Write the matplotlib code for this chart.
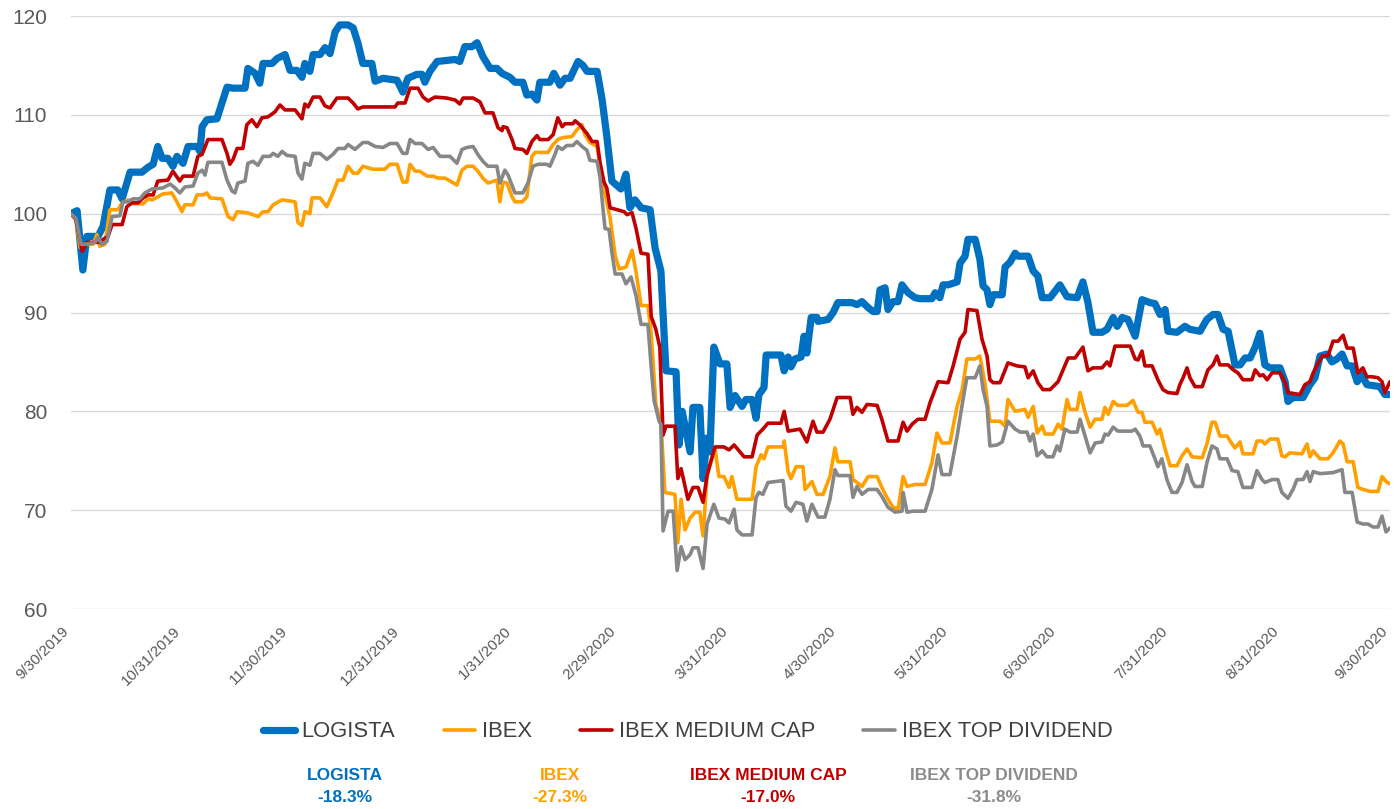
import pandas as pd
import matplotlib
matplotlib.use('Agg')
import matplotlib.pyplot as plt

plt.rcParams['font.family'] = ['Liberation Sans', 'DejaVu Sans']

start = pd.Timestamp('2019-09-30')

# values, x = days after 9/30/2019 (index, base 100)
logista_days = [0, 1.7, 3.3, 4.4, 7.5, 8.9, 10.8, 13.0, 14.2, 16.4, 19.7, 21.4, 22.8, 24.1, 25.3, 26.9, 28.3, 29.4,
                31.1, 32.5, 35.0, 35.8, 36.4, 37.7, 40.5, 43.3, 45.0, 48.3, 49.1, 51.1, 52.4, 53.3, 55.8, 57.2, 59.4,
                60.8, 62.7, 64.1, 64.9, 66.3, 67.2, 69.1, 70.5, 71.9, 73.3, 74.6, 76.9, 78.3, 79.6, 81.0, 83.5, 84.4,
                86.6, 90.5, 92.1, 93.5, 96.0, 97.4, 98.2, 99.6, 101.6, 106.6, 107.9, 109.3, 111.3, 112.7, 114.3, 116.3,
                118.2, 119.6, 121.8, 123.2, 125.4, 126.5, 127.9, 129.3, 130.1, 132.9, 134.0, 135.7, 137.1, 138.5, 140.7,
                142.1, 143.2, 146.0, 147.4, 148.7, 150.1, 152.6, 154.0, 155.1, 156.5, 158.2, 160.7, 162.1, 163.7, 165.1,
                167.9, 168.7, 169.6, 171.8, 172.6, 174.5, 175.4, 176.5, 177.3, 178.4, 180.1, 182.0, 182.9, 184.3, 186.2,
                187.3, 189.0, 190.1, 190.9, 192.3, 192.9, 197.0, 197.9, 199.0, 199.8, 200.9, 202.6, 203.4, 204.2, 205.4,
                207.0, 207.3, 210.1, 211.5, 212.8, 216.7, 218.1, 219.5, 221.2, 222.6, 223.7, 224.5, 225.9, 226.7, 228.1,
                229.5, 230.6, 232.3, 234.2, 235.6, 238.9, 239.8, 241.1, 242.0, 243.4, 245.9, 246.7, 248.1, 248.9, 250.9,
                252.2, 253.1, 254.2, 255.0, 255.9, 258.4, 259.2, 260.6, 262.0, 262.8, 265.6, 267.0, 268.3, 269.5, 271.7,
                274.4, 276.4, 279.2, 280.8, 282.2, 283.6, 286.1, 287.5, 289.2, 290.3, 291.7, 293.3, 295.3, 297.2, 299.4,
                300.8, 302.2, 303.6, 304.4, 306.9, 309.1, 310.5, 313.3, 315.2, 316.9, 318.3, 319.7, 321.1, 323.0, 324.4,
                325.8, 327.2, 328.6, 329.9, 331.3, 332.7, 335.5, 336.9, 337.7, 339.1, 341.9, 343.8, 345.2, 346.6, 348.5,
                349.9, 351.3, 352.7, 354.1, 355.5, 356.9, 358.2, 359.6, 363.2, 364.6, 366.0]
logista = [100.0, 100.3, 94.3, 97.7, 97.7, 98.7, 102.4, 102.4, 101.5, 104.2, 104.2, 104.7, 105.0, 106.8, 105.6, 105.6,
           104.8, 105.8, 105.1, 106.8, 106.8, 106.3, 108.8, 109.5, 109.6, 112.8, 112.7, 112.7, 114.7, 114.2, 113.2,
           115.2, 115.2, 115.7, 116.1, 114.5, 114.5, 113.8, 115.2, 114.4, 116.1, 116.1, 116.8, 116.2, 118.4, 119.1,
           119.1, 118.8, 117.3, 115.2, 115.2, 113.4, 113.7, 113.5, 112.3, 113.7, 114.1, 114.1, 113.3, 114.4, 115.4,
           115.6, 115.4, 116.9, 116.9, 117.3, 115.9, 114.7, 114.7, 114.2, 113.8, 113.3, 113.3, 112.0, 112.1, 111.5,
           113.3, 113.3, 114.2, 113.0, 113.7, 113.7, 115.4, 115.0, 114.4, 114.4, 111.5, 107.8, 103.3, 102.5, 104.0,
           100.6, 101.4, 100.6, 100.4, 96.5, 94.2, 84.1, 84.0, 76.6, 80.0, 75.9, 80.4, 80.4, 73.2, 77.3, 75.9, 86.5,
           84.8, 84.8, 80.4, 81.6, 80.5, 81.2, 81.2, 79.3, 81.7, 82.4, 85.7, 85.7, 84.1, 85.5, 84.5, 85.3, 85.5, 87.6,
           85.9, 89.5, 89.5, 89.1, 89.3, 90.0, 91.0, 91.0, 90.8, 91.1, 90.5, 90.1, 90.1, 92.3, 92.5, 90.3, 91.1, 91.1,
           92.8, 92.0, 91.5, 91.4, 91.4, 92.0, 91.5, 92.8, 92.8, 93.1, 95.0, 95.7, 97.4, 97.4, 95.4, 92.7, 92.3, 90.8,
           91.8, 91.8, 94.6, 95.1, 96.0, 95.7, 95.7, 94.2, 93.7, 91.5, 91.5, 92.8, 91.6, 91.5, 93.1, 91.0, 88.0, 88.0,
           88.3, 89.5, 88.6, 89.5, 89.3, 87.6, 91.3, 91.0, 90.9, 89.8, 90.3, 88.1, 88.0, 88.6, 88.3, 88.1, 89.3, 89.8,
           89.8, 88.3, 88.1, 84.7, 84.7, 85.4, 85.4, 86.5, 87.9, 84.7, 84.4, 84.4, 83.0, 81.0, 81.4, 81.4, 82.7, 83.4,
           85.6, 85.8, 85.0, 85.3, 85.8, 84.6, 84.6, 83.0, 83.7, 82.7, 82.5, 81.7, 81.7]

ibex_days = [0, 1.4, 2.5, 3.9, 6.1, 7.2, 8.0, 9.4, 10.8, 13.0, 14.2, 15.8, 16.9, 20.0, 21.4, 22.5, 24.1, 25.5, 28.0,
             29.4, 30.8, 31.6, 33.9, 35.0, 36.6, 37.7, 38.6, 41.9, 43.6, 45.0, 46.1, 48.8, 50.5, 51.9, 53.3, 54.7,
             56.1, 58.6, 62.2, 63.0, 64.1, 64.9, 66.3, 66.9, 69.1, 71.0, 72.7, 74.1, 75.5, 76.9, 78.3, 79.6, 81.0,
             83.8, 87.1, 88.5, 90.5, 92.1, 93.2, 94.1, 95.5, 96.8, 98.8, 100.5, 101.8, 103.8, 105.7, 107.1, 108.5,
             109.9, 111.6, 112.9, 114.3, 115.7, 118.2, 119.0, 119.9, 121.0, 122.4, 123.2, 125.2, 126.5, 127.9, 128.8,
             132.4, 133.8, 135.1, 136.5, 139.0, 140.4, 141.8, 142.6, 144.0, 146.0, 146.8, 147.9, 149.6, 151.0, 152.1,
             154.0, 155.7, 156.8, 158.2, 160.1, 161.0, 162.3, 163.7, 164.8, 167.6, 168.4, 169.3, 170.4, 171.8, 173.2,
             174.5, 175.4, 176.5, 177.9, 178.7, 179.8, 181.2, 182.6, 183.4, 184.8, 189.0, 190.1, 191.5, 192.3, 193.4,
             197.6, 197.9, 199.0, 199.8, 201.2, 203.1, 203.7, 205.6, 207.0, 208.7, 210.6, 212.0, 212.8, 216.2, 217.0,
             218.1, 219.5, 221.2, 223.7, 225.0, 226.4, 228.1, 229.5, 230.9, 232.0, 234.2, 237.0, 238.9, 240.3, 241.7,
             243.9, 245.9, 247.3, 248.6, 250.9, 252.2, 253.6, 255.0, 257.8, 259.2, 260.0, 262.0, 264.7, 265.6, 267.0,
             268.1, 269.5, 270.3, 272.5, 273.9, 275.0, 276.4, 277.2, 279.2, 280.0, 281.4, 282.8, 284.2, 286.1, 286.9,
             287.8, 289.2, 290.5, 293.0, 294.7, 296.1, 297.2, 298.0, 300.0, 301.4, 302.2, 303.6, 305.0, 306.9, 308.3,
             309.7, 311.1, 313.9, 315.2, 316.6, 317.5, 318.8, 320.8, 322.2, 323.0, 324.4, 325.2, 328.0, 329.1, 330.5,
             331.3, 332.7, 334.9, 336.0, 336.9, 338.2, 341.6, 343.0, 343.8, 344.7, 346.6, 348.8, 350.2, 352.1, 353.0,
             354.1, 355.8, 357.1, 358.5, 360.5, 362.7, 363.8, 365.2, 366.0]
ibex = [100.0, 99.4, 96.6, 96.9, 96.9, 97.9, 96.7, 96.9, 100.4, 100.4, 101.1, 101.4, 101.0, 101.0, 101.5, 101.4, 101.7,
        102.0, 102.1, 101.2, 100.2, 100.9, 100.9, 101.9, 101.9, 102.1, 101.6, 101.5, 99.7, 99.4, 100.2, 100.1, 99.9,
        99.7, 100.2, 100.2, 100.9, 101.4, 101.2, 99.1, 98.8, 100.2, 100.0, 101.6, 101.6, 100.7, 102.1, 103.4, 103.4,
        104.8, 104.1, 104.1, 104.8, 104.5, 104.5, 105.0, 105.0, 103.2, 103.2, 105.0, 104.3, 104.3, 103.8, 103.8, 103.6,
        103.6, 103.2, 102.9, 104.4, 104.8, 104.8, 104.3, 103.6, 103.1, 103.4, 101.2, 103.2, 103.1, 101.7, 101.2, 101.2,
        101.7, 105.8, 106.2, 106.2, 107.0, 107.5, 107.7, 107.8, 108.5, 109.0, 108.0, 107.2, 106.8, 104.7, 102.5, 99.6,
        95.8, 94.4, 94.6, 96.3, 94.1, 90.7, 90.7, 87.9, 80.7, 79.0, 71.8, 71.6, 66.7, 71.1, 68.0, 69.2, 69.8, 69.8,
        67.4, 73.5, 75.2, 76.3, 73.4, 73.4, 72.3, 73.4, 71.1, 71.1, 74.4, 75.6, 75.2, 76.4, 76.4, 77.0, 73.9, 73.2,
        74.4, 74.4, 72.1, 72.9, 71.6, 71.6, 73.4, 76.3, 74.9, 74.9, 73.1, 72.8, 72.4, 73.4, 73.4, 72.3, 71.3, 70.3,
        70.1, 73.4, 72.4, 72.6, 72.6, 74.8, 77.8, 76.8, 76.8, 80.5, 82.2, 85.3, 85.3, 85.6, 82.9, 79.0, 79.0, 78.5,
        81.2, 80.0, 80.2, 79.4, 80.5, 77.8, 78.5, 77.7, 77.7, 78.7, 78.2, 81.2, 80.2, 80.2, 81.9, 79.9, 78.4, 79.2,
        79.2, 80.4, 79.7, 81.0, 80.6, 80.6, 81.1, 79.9, 79.9, 78.9, 78.9, 77.7, 78.2, 76.2, 74.5, 74.5, 75.5, 76.2,
        75.4, 75.3, 76.7, 78.9, 78.9, 77.5, 77.5, 76.7, 76.3, 76.9, 75.7, 75.7, 77.0, 77.0, 76.7, 77.2, 77.2, 75.5,
        75.4, 75.8, 75.7, 76.7, 75.4, 76.0, 75.2, 75.2, 75.8, 77.0, 76.7, 74.9, 74.9, 72.3, 72.1, 71.9, 71.9, 73.4,
        72.8, 72.7]

midcap_days = [0, 1.4, 3.1, 4.4, 8.0, 8.9, 10.3, 11.4, 14.2, 15.5, 16.9, 18.6, 20.0, 21.4, 22.8, 24.1, 26.9, 28.3,
               30.2, 31.1, 33.9, 35.2, 36.4, 38.0, 41.9, 43.3, 44.1, 45.0, 46.1, 47.7, 48.8, 50.2, 51.6, 53.0, 54.7,
               56.6, 58.0, 59.4, 62.2, 64.1, 64.9, 65.8, 67.2, 69.1, 70.5, 71.9, 73.8, 76.9, 78.3, 79.6, 81.0, 89.9,
               90.7, 92.7, 94.1, 96.3, 97.7, 99.1, 101.0, 104.3, 106.6, 107.9, 108.8, 111.6, 113.5, 114.9, 117.1,
               118.5, 119.6, 119.9, 121.0, 122.4, 123.2, 125.4, 126.5, 127.9, 129.3, 130.1, 132.4, 133.8, 135.1,
               136.3, 137.1, 139.3, 139.9, 141.2, 143.2, 144.6, 146.0, 146.8, 147.9, 148.7, 149.6, 153.5, 154.3,
               155.7, 156.8, 158.2, 160.1, 161.0, 162.3, 163.4, 164.3, 165.1, 167.6, 168.4, 169.3, 171.2, 172.6,
               174.0, 175.4, 176.5, 177.3, 178.7, 181.2, 182.6, 184.0, 186.8, 189.0, 190.4, 192.0, 193.4, 197.0,
               197.9, 199.0, 202.3, 204.2, 205.9, 207.0, 208.7, 210.6, 212.6, 216.2, 217.0, 218.1, 219.5, 220.9,
               223.7, 225.0, 226.7, 229.5, 230.9, 232.0, 233.4, 235.0, 237.0, 238.4, 240.6, 243.4, 244.8, 246.7,
               248.1, 248.9, 251.4, 252.8, 254.2, 255.0, 255.9, 257.8, 260.0, 262.5, 264.7, 265.6, 267.0, 268.3,
               269.7, 271.7, 273.9, 275.3, 276.7, 278.6, 280.0, 280.8, 282.2, 283.6, 286.1, 287.5, 288.3, 289.7,
               293.9, 295.3, 296.1, 297.2, 298.0, 300.0, 301.6, 303.0, 304.4, 306.9, 307.7, 308.6, 309.7, 310.5,
               311.9, 313.9, 315.5, 316.9, 318.0, 318.8, 321.1, 322.5, 323.8, 325.2, 327.7, 328.6, 329.9, 330.8,
               331.9, 333.3, 335.5, 336.9, 337.7, 341.0, 342.4, 343.8, 344.7, 346.1, 347.2, 348.8, 350.2, 351.6,
               353.0, 354.1, 355.8, 357.1, 358.5, 359.6, 361.0, 362.7, 363.8, 364.6, 366.0]
midcap = [100.0, 99.4, 96.2, 97.1, 97.1, 97.4, 97.7, 98.9, 98.9, 100.7, 101.1, 101.1, 101.6, 101.9, 101.9, 103.3,
          103.4, 104.3, 103.3, 103.8, 103.8, 105.8, 106.0, 107.5, 107.5, 106.1, 105.0, 105.5, 106.6, 106.6, 109.0,
          109.5, 108.8, 109.7, 109.8, 110.3, 111.0, 110.5, 110.5, 109.6, 111.1, 110.8, 111.8, 111.8, 110.9, 110.7,
          111.7, 111.7, 111.2, 110.6, 110.8, 110.8, 111.2, 111.2, 112.7, 112.7, 111.8, 111.4, 111.8, 111.7, 111.5,
          111.1, 111.7, 111.7, 111.3, 110.2, 110.2, 108.7, 108.4, 108.8, 108.7, 107.5, 106.6, 106.5, 106.1, 107.3,
          107.9, 107.5, 107.5, 108.0, 109.7, 108.8, 109.1, 109.1, 109.4, 109.0, 108.1, 107.3, 107.3, 105.2, 103.2,
          102.6, 100.6, 100.2, 99.9, 100.1, 98.5, 96.0, 95.9, 89.6, 88.3, 86.5, 77.6, 78.5, 78.5, 73.2, 74.2, 71.1,
          72.3, 72.3, 70.8, 73.5, 74.6, 76.4, 76.4, 76.1, 76.6, 75.4, 75.4, 77.6, 78.2, 78.8, 78.8, 80.0, 78.0, 78.2,
          76.9, 79.0, 77.9, 77.9, 79.2, 81.4, 81.4, 79.7, 80.4, 79.9, 80.7, 80.6, 79.2, 77.0, 77.0, 78.9, 78.0, 78.7,
          79.2, 79.2, 80.9, 83.0, 82.9, 84.6, 87.3, 88.0, 90.3, 90.2, 87.3, 85.6, 83.2, 82.9, 82.9, 84.9, 84.6, 84.5,
          83.4, 84.1, 82.9, 82.2, 82.2, 83.0, 84.2, 85.4, 85.4, 86.1, 86.5, 84.1, 84.4, 84.4, 85.0, 84.6, 86.6, 86.6,
          85.3, 85.2, 86.1, 84.6, 84.6, 83.2, 82.2, 81.9, 81.8, 82.7, 83.4, 84.4, 83.4, 82.5, 82.5, 84.2, 84.7, 85.6,
          84.7, 84.7, 84.2, 83.9, 83.2, 83.2, 84.2, 83.6, 83.7, 83.2, 83.9, 83.9, 82.9, 81.9, 81.7, 82.7, 83.0, 83.9,
          84.9, 85.6, 85.6, 87.1, 87.1, 87.7, 86.4, 86.4, 83.9, 84.4, 83.5, 83.5, 83.4, 83.0, 81.9, 83.0]

topdiv_days = [0, 1.4, 2.8, 3.9, 6.7, 7.5, 8.6, 10.0, 11.4, 13.6, 14.4, 15.8, 17.2, 19.1, 20.5, 22.5, 25.5, 27.5,
               28.9, 30.2, 31.6, 33.9, 35.2, 36.4, 37.2, 38.0, 41.9, 43.3, 44.7, 45.5, 46.3, 48.3, 49.1, 50.5, 51.9,
               53.3, 55.2, 56.1, 57.4, 58.6, 59.9, 62.2, 63.0, 64.1, 64.9, 66.3, 67.2, 69.1, 71.0, 72.7, 74.1, 76.0,
               76.9, 78.8, 81.0, 82.4, 84.4, 86.6, 88.5, 90.5, 92.1, 93.2, 94.1, 95.5, 97.4, 99.1, 100.5, 102.4,
               105.2, 107.1, 108.5, 109.9, 111.6, 112.9, 114.3, 115.7, 118.2, 119.0, 120.4, 121.3, 123.2, 125.4,
               126.8, 128.2, 129.6, 132.1, 132.9, 134.3, 135.1, 136.3, 137.6, 139.3, 140.4, 141.8, 143.2, 144.0,
               146.0, 146.8, 147.6, 148.2, 149.3, 150.1, 151.0, 152.9, 154.0, 155.4, 156.8, 158.2, 160.1, 161.0,
               161.8, 163.2, 163.7, 164.3, 165.7, 167.1, 168.2, 169.3, 170.4, 171.8, 172.6, 174.0, 175.4, 176.5,
               178.4, 179.8, 181.5, 182.6, 184.0, 184.8, 186.2, 189.0, 190.1, 190.9, 192.0, 193.4, 197.6, 198.4,
               199.8, 201.2, 203.1, 204.2, 205.6, 207.3, 209.2, 210.6, 212.0, 212.8, 216.2, 217.0, 218.1, 219.5,
               221.2, 223.7, 225.0, 226.7, 228.7, 230.6, 230.9, 232.0, 233.7, 237.0, 238.9, 240.6, 241.7, 243.9,
               245.9, 247.3, 248.6, 250.9, 252.2, 253.1, 254.2, 255.0, 257.0, 258.4, 260.0, 262.0, 263.4, 265.3,
               266.1, 267.0, 268.1, 269.5, 270.8, 272.5, 273.6, 274.4, 275.8, 277.2, 279.2, 280.0, 281.4, 282.8,
               284.2, 286.1, 286.9, 287.8, 289.2, 290.5, 294.4, 295.3, 296.6, 297.5, 299.4, 300.8, 301.6, 302.7,
               304.1, 305.5, 306.9, 308.3, 309.7, 311.1, 311.9, 313.9, 315.2, 316.6, 318.0, 318.8, 320.8, 322.2,
               323.8, 325.2, 327.7, 329.1, 330.5, 331.3, 333.3, 334.9, 336.0, 337.7, 339.1, 340.2, 341.9, 343.0,
               343.8, 344.7, 346.6, 350.2, 352.7, 353.5, 355.5, 356.9, 358.5, 359.9, 361.3, 362.7, 363.8, 364.9,
               366.0]
topdiv = [100.0, 99.5, 96.9, 96.9, 97.1, 97.6, 96.9, 97.2, 99.7, 99.8, 101.2, 101.2, 101.5, 101.5, 102.1, 102.5,
          102.6, 103.0, 102.6, 102.1, 102.7, 102.8, 104.1, 104.4, 103.9, 105.2, 105.2, 103.4, 102.3, 102.1, 103.1,
          103.3, 105.1, 105.3, 104.9, 105.8, 105.8, 106.1, 105.8, 106.3, 105.9, 105.8, 104.1, 103.5, 105.1, 104.9,
          106.1, 106.1, 105.5, 106.0, 106.6, 106.6, 107.0, 106.5, 107.2, 107.2, 106.8, 106.7, 107.1, 107.1, 106.1,
          106.1, 107.5, 107.1, 107.1, 106.5, 106.7, 105.8, 105.8, 105.1, 106.5, 106.7, 106.8, 106.0, 105.3, 104.8,
          104.8, 103.1, 104.4, 103.9, 102.1, 102.1, 103.1, 104.8, 105.0, 105.0, 104.8, 106.0, 106.8, 106.5, 106.9,
          106.9, 107.3, 106.8, 106.4, 105.4, 105.3, 103.7, 100.6, 98.5, 98.4, 96.1, 93.9, 93.9, 92.9, 93.6, 91.7,
          88.8, 88.8, 84.5, 81.1, 79.0, 78.7, 67.9, 69.9, 69.9, 63.9, 66.3, 65.0, 65.5, 66.2, 66.2, 64.1, 68.6, 70.6,
          69.2, 69.1, 68.7, 70.1, 68.0, 67.5, 67.5, 71.3, 71.8, 71.6, 72.8, 73.0, 70.4, 69.9, 70.8, 70.6, 68.9, 70.6,
          69.3, 69.3, 71.1, 74.1, 73.5, 73.5, 71.3, 72.4, 71.6, 72.1, 72.1, 71.4, 70.3, 69.8, 69.9, 71.8, 69.8, 69.9,
          69.9, 72.1, 75.6, 73.6, 73.6, 77.5, 80.7, 83.4, 83.4, 84.6, 82.2, 80.5, 76.5, 76.6, 76.9, 79.0, 78.2, 77.9,
          77.9, 77.0, 77.7, 75.5, 76.0, 75.4, 75.4, 76.5, 76.0, 78.2, 77.9, 77.9, 79.2, 77.5, 75.8, 76.8, 76.9, 77.7,
          77.6, 78.4, 78.0, 78.0, 78.2, 77.5, 76.5, 76.5, 75.2, 74.4, 75.2, 73.1, 71.8, 71.8, 72.8, 74.6, 72.9, 72.4,
          72.4, 74.8, 76.5, 76.2, 75.2, 75.2, 74.0, 73.9, 72.3, 72.3, 74.0, 73.1, 72.8, 73.1, 73.1, 71.8, 71.2, 72.1,
          73.1, 73.1, 73.9, 72.9, 73.9, 73.7, 73.8, 74.1, 71.8, 71.8, 68.8, 68.6, 68.6, 68.3, 68.3, 69.4, 67.8, 68.2]

names = ['LOGISTA', 'IBEX', 'IBEX MEDIUM CAP', 'IBEX TOP DIVIDEND']
changes = ['-18.3%', '-27.3%', '-17.0%', '-31.8%']
tick_labels = ['9/30/2019', '10/31/2019', '11/30/2019', '12/31/2019', '1/31/2020', '2/29/2020', '3/31/2020',
               '4/30/2020', '5/31/2020', '6/30/2020', '7/31/2020', '8/31/2020', '9/30/2020']

colors = ['#0070C0', '#FFA000', '#C00000', '#878787']
summary_colors = ['#0070C0', '#FFA000', '#C00000', '#8C8C8C']
widths = [5.2, 2.6, 2.6, 2.6]

fig = plt.figure(figsize=(13.94, 8.09), dpi=100)
ax = fig.add_axes([0.0509, 0.2472, 0.9462, 0.7330])

all_days = [logista_days, ibex_days, midcap_days, topdiv_days]
all_vals = [logista, ibex, midcap, topdiv]
for name, d, v, c, lw in zip(names, all_days, all_vals, colors, widths):
    dates = start + pd.to_timedelta(d, unit='D')
    ax.plot(dates, v, color=c, lw=lw, label=name, solid_joinstyle='round', solid_capstyle='round')

ax.set_ylim(60, 120)
ax.set_yticks(range(60, 121, 10))
ax.set_xlim(start, pd.Timestamp('2020-09-30'))
ticks = pd.to_datetime(tick_labels, format='%m/%d/%Y')
ax.set_xticks(ticks)
ax.set_xticklabels(tick_labels, rotation=45, ha='right', fontsize=11, color='#595959')
ax.tick_params(axis='x', length=0, pad=11)
ax.tick_params(axis='y', length=0, pad=17, labelsize=15, labelcolor='#595959')
ax.yaxis.grid(True, color='#D9D9D9', lw=1)
ax.set_axisbelow(True)
for s in ax.spines.values():
    s.set_visible(False)

fig.legend(loc='center', bbox_to_anchor=(0.4935, 0.0952), ncol=4, frameon=False, fontsize=15.8,
           handlelength=1.45, handletextpad=0.3, columnspacing=2.2, labelcolor='#404040')

# summary under the legend
xs = [0.2475, 0.4017, 0.5509, 0.7131]
for x, name, ch, c in zip(xs, names, changes, summary_colors):
    fig.text(x, 0.0408, name, ha='center', va='center', fontsize=12.5, fontweight='bold', color=c)
    fig.text(x, 0.0136, ch, ha='center', va='center', fontsize=12.5, fontweight='bold', color=c)

fig.savefig('out.png', dpi=100)
